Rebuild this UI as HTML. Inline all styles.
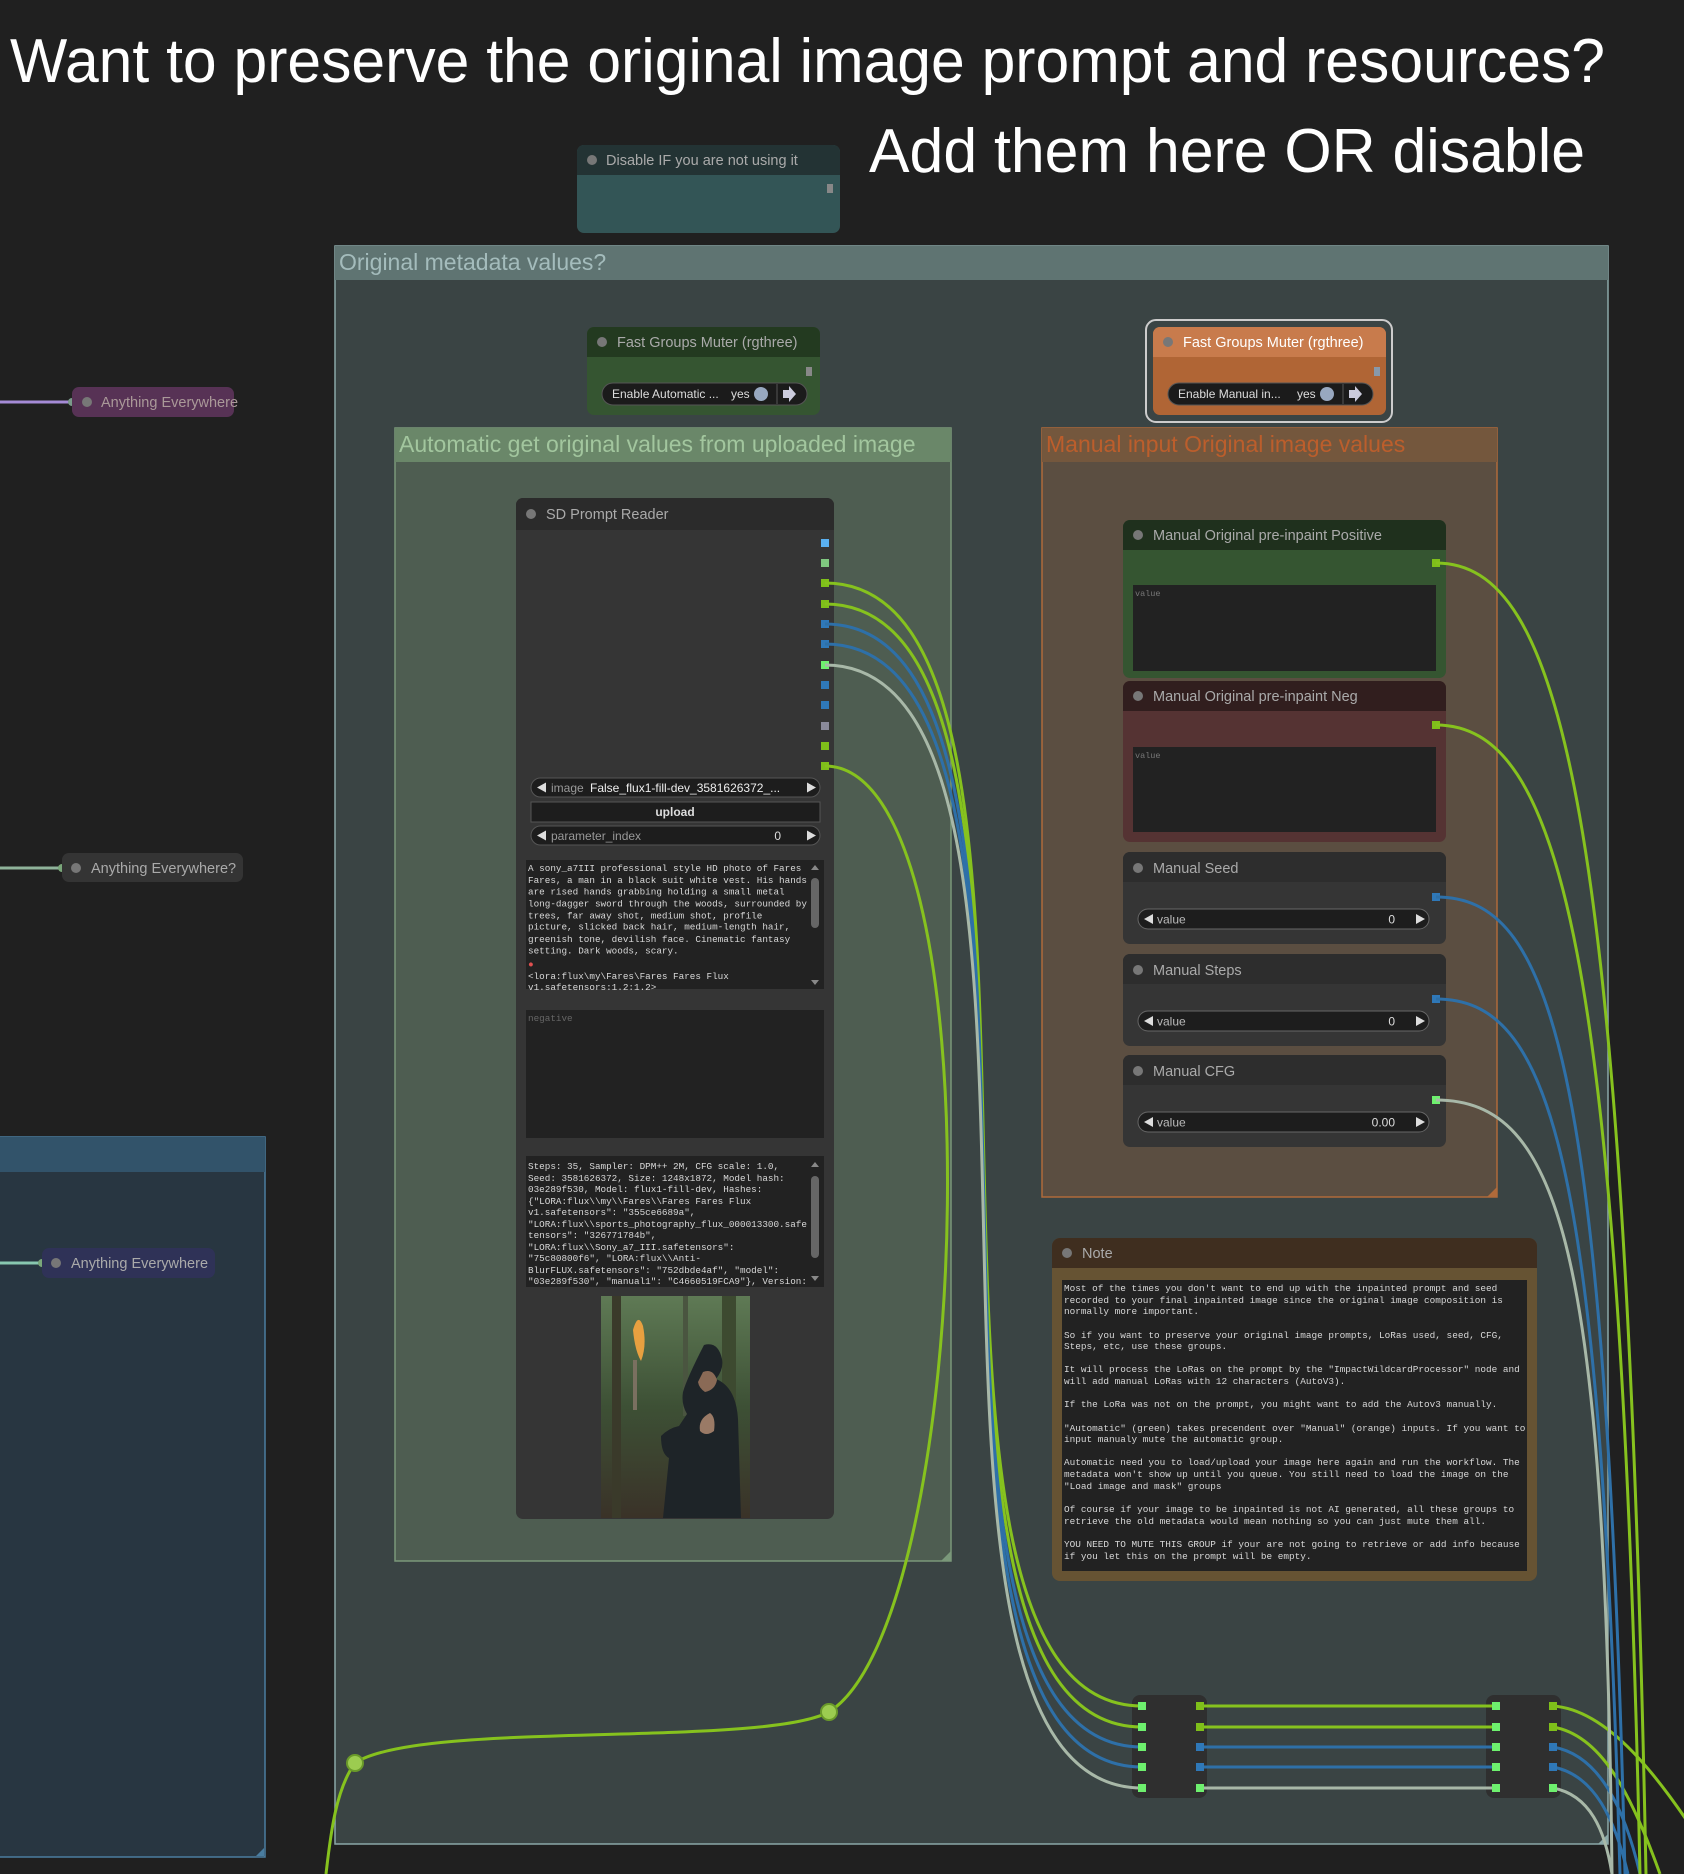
<!DOCTYPE html>
<html><head><meta charset="utf-8"><style>
html,body{margin:0;padding:0;background:#202020;}
svg{display:block;}
.t{font-family:"Liberation Sans",Arial,sans-serif;}
.m{font-family:"Liberation Mono",monospace;font-size:9.3px;fill:#d8d8d8;}
.nt{font-family:"Liberation Sans",Arial,sans-serif;font-size:14.5px;fill:#aaa;}
.w{font-family:"Liberation Sans",Arial,sans-serif;font-size:12px;fill:#ddd;}
</style></head><body>
<svg width="1684" height="1874" viewBox="0 0 1684 1874" xmlns="http://www.w3.org/2000/svg">
<rect width="1684" height="1874" fill="#202020"/>
<text class="t" x="10" y="82" font-size="62" fill="#fff" textLength="1595" lengthAdjust="spacingAndGlyphs">Want to preserve the original image prompt and resources?</text>
<text class="t" x="869" y="172" font-size="62" fill="#fff" textLength="716" lengthAdjust="spacingAndGlyphs">Add them here OR disable</text>

<!-- left blue group -->
<rect x="-2" y="1137" width="267" height="720" fill="#283641" stroke="#4a7da0" stroke-width="1.5"/>
<rect x="-2" y="1137" width="267" height="35" fill="#32536a"/>
<path d="M256,1856 L264,1848 L264,1856Z" fill="#4a7da0"/>

<!-- left AE nodes -->
<line x1="0" y1="402" x2="72" y2="402" stroke="#a58bd6" stroke-width="3"/>
<circle cx="72" cy="402" r="4" fill="#7a9a8a"/>
<rect x="72" y="387" width="162" height="30" rx="7" fill="#573255"/>
<circle cx="87" cy="402" r="5" fill="#777"/>
<text class="nt" x="101" y="407" font-size="14" style="fill:#a99">Anything Everywhere</text>

<line x1="0" y1="868" x2="62" y2="868" stroke="#8fb39a" stroke-width="3"/>
<circle cx="62" cy="868" r="4" fill="#7aa77a"/>
<rect x="62" y="853" width="181" height="29" rx="7" fill="#343434"/>
<circle cx="76" cy="868" r="5" fill="#777"/>
<text class="nt" x="91" y="873" font-size="14">Anything Everywhere?</text>

<line x1="0" y1="1263" x2="42" y2="1263" stroke="#88c8b0" stroke-width="3"/>
<circle cx="42" cy="1263" r="4" fill="#7aa77a"/>
<rect x="42" y="1248" width="173" height="30" rx="7" fill="#2f3257"/>
<circle cx="56" cy="1263" r="5" fill="#777"/>
<text class="nt" x="71" y="1268" font-size="14">Anything Everywhere</text>

<!-- Disable node -->
<rect x="577" y="145" width="263" height="88" rx="7" fill="#335556"/>
<path d="M577,175 V152 a7,7 0 0 1 7,-7 H833 a7,7 0 0 1 7,7 V175Z" fill="#233334"/>
<circle cx="592" cy="160" r="5" fill="#777"/>
<text class="nt" x="606" y="165" font-size="14">Disable IF you are not using it</text>
<rect x="827" y="184" width="6" height="9" fill="#888"/>

<!-- Big group -->
<rect x="335" y="246" width="1273" height="1598" fill="#3a4444" stroke="#8aa8a8" stroke-width="1.5"/>
<rect x="335" y="246" width="1273" height="34" fill="#5f7472"/>
<text class="t" x="339" y="270" font-size="23" fill="#a4bcbc">Original metadata values?</text>
<path d="M1598,1844 L1608,1834 L1608,1844Z" fill="#8aa8a8"/>

<!-- Fast groups muter green -->
<rect x="587" y="327" width="233" height="88" rx="7" fill="#355531"/>
<path d="M587,357 V334 a7,7 0 0 1 7,-7 H813 a7,7 0 0 1 7,7 V357Z" fill="#233a20"/>
<circle cx="602" cy="342" r="5" fill="#777"/>
<text class="nt" x="617" y="347" font-size="14">Fast Groups Muter (rgthree)</text>
<rect x="806" y="367" width="6" height="9" fill="#888"/>
<rect x="602" y="383" width="205" height="22" rx="11" fill="#1b1b1b" stroke="#555"/>
<text class="w" x="612" y="398">Enable Automatic ...</text>
<text class="w" x="731" y="398">yes</text>
<circle cx="761" cy="394" r="7" fill="#98a8c0"/>
<line x1="777" y1="384" x2="777" y2="404" stroke="#555"/>
<path d="M783,390 h6 v-4 l7,8 l-7,8 v-4 h-6z" fill="#ccd"/>

<!-- Fast groups muter orange -->
<rect x="1146" y="320" width="246" height="102" rx="10" fill="none" stroke="#ccc" stroke-width="2"/>
<rect x="1153" y="327" width="233" height="88" rx="7" fill="#b06535"/>
<path d="M1153,357 V334 a7,7 0 0 1 7,-7 H1379 a7,7 0 0 1 7,7 V357Z" fill="#c87b4c"/>
<circle cx="1168" cy="342" r="5" fill="#777"/>
<text class="nt" x="1183" y="347" font-size="14" style="fill:#fff">Fast Groups Muter (rgthree)</text>
<rect x="1374" y="367" width="6" height="9" fill="#8899aa"/>
<rect x="1168" y="383" width="205" height="22" rx="11" fill="#1b1b1b" stroke="#555"/>
<text class="w" x="1178" y="398">Enable Manual in...</text>
<text class="w" x="1297" y="398">yes</text>
<circle cx="1327" cy="394" r="7" fill="#98a8c0"/>
<line x1="1343" y1="384" x2="1343" y2="404" stroke="#555"/>
<path d="M1349,390 h6 v-4 l7,8 l-7,8 v-4 h-6z" fill="#ccd"/>

<!-- Auto group -->
<rect x="395" y="428" width="556" height="1133" fill="#4e5d51" stroke="#7a987a" stroke-width="1.5"/>
<rect x="395" y="428" width="556" height="34" fill="#6a8769"/>
<text class="t" x="399" y="452" font-size="23" fill="#a2c69e">Automatic get original values from uploaded image</text>
<path d="M941,1561 L951,1551 L951,1561Z" fill="#7a987a"/>

<!-- Manual group -->
<rect x="1042" y="428" width="455" height="769" fill="#5b4e41" stroke="#b06a3a" stroke-width="1.5"/>
<rect x="1042" y="428" width="455" height="34" fill="#74573d"/>
<text class="t" x="1046" y="452" font-size="23" fill="#bc5e2c">Manual input Original image values</text>
<path d="M1487,1197 L1497,1187 L1497,1197Z" fill="#b06a3a"/>

<!-- SD Prompt Reader -->
<rect x="516" y="498" width="318" height="1021" rx="7" fill="#353535"/>
<path d="M516,530 V505 a7,7 0 0 1 7,-7 H827 a7,7 0 0 1 7,7 V530Z" fill="#2b2b2b"/>
<circle cx="531" cy="514" r="5" fill="#777"/>
<text class="nt" x="546" y="519" font-size="14.5">SD Prompt Reader</text>
<g>
<rect x="821" y="539" width="8" height="8" fill="#5ab0f0"/>
<rect x="821" y="559" width="8" height="8" fill="#80c880"/>
<rect x="821" y="579" width="8" height="8" fill="#7fbf1a"/>
<rect x="821" y="600" width="8" height="8" fill="#7fbf1a"/>
<rect x="821" y="620" width="8" height="8" fill="#2f78b8"/>
<rect x="821" y="640" width="8" height="8" fill="#2f78b8"/>
<rect x="821" y="661" width="8" height="8" fill="#6ef06e"/>
<rect x="821" y="681" width="8" height="8" fill="#2f78b8"/>
<rect x="821" y="701" width="8" height="8" fill="#2f78b8"/>
<rect x="821" y="722" width="8" height="8" fill="#8a8a9a"/>
<rect x="821" y="742" width="8" height="8" fill="#7fbf1a"/>
<rect x="821" y="762" width="8" height="8" fill="#7fbf1a"/>
</g>
<rect x="531" y="778" width="289" height="19" rx="9.5" fill="#1d1d1d" stroke="#555"/>
<path d="M537,787.5 l9,-5 v10z M816,787.5 l-9,-5 v10z" fill="#ddd"/>
<text class="w" x="551" y="792" style="fill:#999">image</text>
<text class="w" x="590" y="792" style="fill:#eee">False_flux1-fill-dev_3581626372_...</text>
<rect x="531" y="802" width="289" height="20" fill="#1d1d1d" stroke="#555"/>
<text class="w" x="675" y="816" text-anchor="middle" font-weight="bold">upload</text>
<rect x="531" y="826" width="289" height="19" rx="9.5" fill="#1d1d1d" stroke="#555"/>
<path d="M537,835.5 l9,-5 v10z M816,835.5 l-9,-5 v10z" fill="#ddd"/>
<text class="w" x="551" y="840" style="fill:#999">parameter_index</text>
<text class="w" x="781" y="840" text-anchor="end">0</text>

<rect x="526" y="860" width="298" height="129" fill="#222"/>
<rect x="811" y="878" width="8" height="50" rx="4" fill="#666"/>
<path d="M811,870 l4,-5 l4,5z M811,980 l4,5 l4,-5z" fill="#888"/>
<g class="m">
<text x="528" y="871">A sony_a7III professional style HD photo of Fares</text>
<text x="528" y="883">Fares, a man in a black suit white vest. His hands</text>
<text x="528" y="894.5">are rised hands grabbing holding a small metal</text>
<text x="528" y="906.5">long-dagger sword through the woods, surrounded by</text>
<text x="528" y="918.5">trees, far away shot, medium shot, profile</text>
<text x="528" y="929.5">picture, slicked back hair, medium-length hair,</text>
<text x="528" y="942">greenish tone, devilish face. Cinematic fantasy</text>
<text x="528" y="953.5">setting. Dark woods, scary.</text>
<text x="528" y="967" style="fill:#e05050">●</text>
<text x="528" y="979">&lt;lora:flux\my\Fares\Fares Fares Flux</text>
<text x="528" y="990">v1.safetensors:1.2:1.2&gt;</text>
</g>
<rect x="526" y="990" width="298" height="6" fill="#353535"/>

<rect x="526" y="1010" width="298" height="128" fill="#222"/>
<text class="m" x="528" y="1021" style="fill:#666">negative</text>

<rect x="526" y="1156" width="298" height="131" fill="#222"/>
<rect x="811" y="1176" width="8" height="82" rx="4" fill="#666"/>
<path d="M811,1167 l4,-5 l4,5z M811,1276 l4,5 l4,-5z" fill="#888"/>
<g class="m">
<text x="528" y="1169">Steps: 35, Sampler: DPM++ 2M, CFG scale: 1.0,</text>
<text x="528" y="1181">Seed: 3581626372, Size: 1248x1872, Model hash:</text>
<text x="528" y="1192">03e289f530, Model: flux1-fill-dev, Hashes:</text>
<text x="528" y="1204">{"LORA:flux\\my\\Fares\\Fares Fares Flux</text>
<text x="528" y="1215">v1.safetensors": "355ce6689a",</text>
<text x="528" y="1227">"LORA:flux\\sports_photography_flux_000013300.safe</text>
<text x="528" y="1238">tensors": "326771784b",</text>
<text x="528" y="1250">"LORA:flux\\Sony_a7_III.safetensors":</text>
<text x="528" y="1261">"75c80800f6", "LORA:flux\\Anti-</text>
<text x="528" y="1273">BlurFLUX.safetensors": "752dbde4af", "model":</text>
<text x="528" y="1284">"03e289f530", "manual1": "C4660519FCA9"}, Version:</text>
</g>
<rect x="526" y="1287" width="298" height="6" fill="#353535"/>

<!-- photo -->
<defs>
<linearGradient id="fg" x1="0" y1="0" x2="0" y2="1">
<stop offset="0" stop-color="#5f7a55"/><stop offset="0.5" stop-color="#3d5035"/><stop offset="1" stop-color="#3a3228"/>
</linearGradient>
</defs>
<rect x="601" y="1296" width="149" height="222" fill="url(#fg)"/>
<rect x="612" y="1296" width="9" height="222" fill="#3a3a2a"/>
<rect x="722" y="1296" width="14" height="222" fill="#3d4a30"/>
<rect x="683" y="1296" width="5" height="120" fill="#4a5540"/>
<path d="M704,1345 q14,-4 18,14 q2,10 -6,20 q20,8 22,40 l3,99 h-78 l6,-60 q-8,-4 -8,-22 q8,-8 18,-10 l8,-12 q-6,-10 -4,-22 q4,-14 21,-47z" fill="#1e2428"/>
<path d="M703,1372 q10,-4 14,8 q-2,10 -12,12 q-6,-4 -7,-10z" fill="#8a6a56"/>
<path d="M710,1413 q6,4 4,18 q-8,6 -14,0 q-2,-12 10,-18z" fill="#9a7a66"/>
<path d="M633,1330 q5,-18 10,-4 q4,20 -2,35 q-6,-10 -8,-31z" fill="#e8a040"/>
<rect x="633" y="1360" width="4" height="50" fill="#7a7060"/>

<!-- Manual nodes -->
<rect x="1123" y="520" width="323" height="158" rx="7" fill="#355531"/>
<path d="M1123,550 V527 a7,7 0 0 1 7,-7 H1439 a7,7 0 0 1 7,7 V550Z" fill="#1f301d"/>
<circle cx="1138" cy="535" r="5" fill="#777"/>
<text class="nt" x="1153" y="540" font-size="14">Manual Original pre-inpaint Positive</text>
<rect x="1432" y="559" width="8" height="8" fill="#7fbf1a"/>
<rect x="1133" y="585" width="303" height="86" fill="#222"/>
<text class="m" x="1135" y="596" style="fill:#777;font-size:8.5px">value</text>

<rect x="1123" y="681" width="323" height="161" rx="7" fill="#553333"/>
<path d="M1123,711 V688 a7,7 0 0 1 7,-7 H1439 a7,7 0 0 1 7,7 V711Z" fill="#311e1e"/>
<circle cx="1138" cy="696" r="5" fill="#777"/>
<text class="nt" x="1153" y="701" font-size="14">Manual Original pre-inpaint Neg</text>
<rect x="1432" y="721" width="8" height="8" fill="#7fbf1a"/>
<rect x="1133" y="747" width="303" height="85" fill="#222"/>
<text class="m" x="1135" y="758" style="fill:#777;font-size:8.5px">value</text>

<g>
<rect x="1123" y="852" width="323" height="92" rx="7" fill="#353535"/>
<path d="M1123,882 V859 a7,7 0 0 1 7,-7 H1439 a7,7 0 0 1 7,7 V882Z" fill="#2d2d2d"/>
<circle cx="1138" cy="868" r="5" fill="#777"/>
<text class="nt" x="1153" y="873" font-size="14">Manual Seed</text>
<rect x="1432" y="893" width="8" height="8" fill="#2f78b8"/>
<rect x="1138" y="909" width="291" height="20" rx="10" fill="#1d1d1d" stroke="#666"/>
<path d="M1144,919 l9,-5 v10z M1425,919 l-9,-5 v10z" fill="#ddd"/>
<text class="w" x="1157" y="923.5" style="fill:#bbb">value</text>
<text class="w" x="1395" y="923.5" text-anchor="end">0</text>
</g>
<g>
<rect x="1123" y="954" width="323" height="92" rx="7" fill="#353535"/>
<path d="M1123,984 V961 a7,7 0 0 1 7,-7 H1439 a7,7 0 0 1 7,7 V984Z" fill="#2d2d2d"/>
<circle cx="1138" cy="970" r="5" fill="#777"/>
<text class="nt" x="1153" y="975" font-size="14">Manual Steps</text>
<rect x="1432" y="995" width="8" height="8" fill="#2f78b8"/>
<rect x="1138" y="1011" width="291" height="20" rx="10" fill="#1d1d1d" stroke="#666"/>
<path d="M1144,1021 l9,-5 v10z M1425,1021 l-9,-5 v10z" fill="#ddd"/>
<text class="w" x="1157" y="1025.5" style="fill:#bbb">value</text>
<text class="w" x="1395" y="1025.5" text-anchor="end">0</text>
</g>
<g>
<rect x="1123" y="1055" width="323" height="92" rx="7" fill="#353535"/>
<path d="M1123,1085 V1062 a7,7 0 0 1 7,-7 H1439 a7,7 0 0 1 7,7 V1085Z" fill="#2d2d2d"/>
<circle cx="1138" cy="1071" r="5" fill="#777"/>
<text class="nt" x="1153" y="1076" font-size="14">Manual CFG</text>
<rect x="1432" y="1096" width="8" height="8" fill="#6ef06e"/>
<rect x="1138" y="1112" width="291" height="20" rx="10" fill="#1d1d1d" stroke="#666"/>
<path d="M1144,1122 l9,-5 v10z M1425,1122 l-9,-5 v10z" fill="#ddd"/>
<text class="w" x="1157" y="1126.5" style="fill:#bbb">value</text>
<text class="w" x="1395" y="1126.5" text-anchor="end">0.00</text>
</g>

<!-- Note -->
<rect x="1052" y="1238" width="485" height="343" rx="8" fill="#665333"/>
<path d="M1052,1268 V1246 a8,8 0 0 1 8,-8 H1529 a8,8 0 0 1 8,8 V1268Z" fill="#3f2e1f"/>
<circle cx="1067" cy="1253" r="5" fill="#777"/>
<text class="nt" x="1082" y="1258" font-size="14">Note</text>
<rect x="1062" y="1280" width="465" height="291" fill="#222"/>
<g class="m" style="font-size:9.4px">
<text x="1064" y="1291">Most of the times you don't want to end up with the inpainted prompt and seed</text>
<text x="1064" y="1303">recorded to your final inpainted image since the original image composition is</text>
<text x="1064" y="1314">normally more important.</text>
<text x="1064" y="1338">So if you want to preserve your original image prompts, LoRas used, seed, CFG,</text>
<text x="1064" y="1349">Steps, etc, use these groups.</text>
<text x="1064" y="1372">It will process the LoRas on the prompt by the "ImpactWildcardProcessor" node and</text>
<text x="1064" y="1384">will add manual LoRas with 12 characters (AutoV3).</text>
<text x="1064" y="1407">If the LoRa was not on the prompt, you might want to add the Autov3 manually.</text>
<text x="1064" y="1431">"Automatic" (green) takes precendent over "Manual" (orange) inputs. If you want to</text>
<text x="1064" y="1442">input manualy mute the automatic group.</text>
<text x="1064" y="1465">Automatic need you to load/upload your image here again and run the workflow. The</text>
<text x="1064" y="1477">metadata won't show up until you queue. You still need to load the image on the</text>
<text x="1064" y="1489">"Load image and mask" groups</text>
<text x="1064" y="1512">Of course if your image to be inpainted is not AI generated, all these groups to</text>
<text x="1064" y="1524">retrieve the old metadata would mean nothing so you can just mute them all.</text>
<text x="1064" y="1547">YOU NEED TO MUTE THIS GROUP if your are not going to retrieve or add info because</text>
<text x="1064" y="1559">if you let this on the prompt will be empty.</text>
</g>

<!-- reroute nodes -->
<rect x="1132" y="1695" width="75" height="103" rx="8" fill="#2f2f2f"/>
<rect x="1486" y="1695" width="75" height="103" rx="8" fill="#2f2f2f"/>

<!-- wires -->
<g fill="none" stroke-width="3">
<path d="M825,583 C1116,583 851,1706 1142,1706" stroke="#86c21e"/>
<path d="M825,604 C1116,604 851,1727 1142,1727" stroke="#86c21e"/>
<path d="M825,624 C1116,624 851,1747 1142,1747" stroke="#2e70a8"/>
<path d="M825,644 C1116,644 851,1767 1142,1767" stroke="#2e70a8"/>
<path d="M825,665 C1116,665 851,1788 1142,1788" stroke="#a8b8a8"/>
<path d="M825,766 C1000,766 975,1620 829,1712 C760,1748 420,1720 355,1763 C335,1790 330,1840 326,1874" stroke="#86c21e"/>
<line x1="1200" y1="1706" x2="1496" y2="1706" stroke="#86c21e"/>
<line x1="1200" y1="1727" x2="1496" y2="1727" stroke="#86c21e"/>
<line x1="1200" y1="1747" x2="1496" y2="1747" stroke="#2e70a8"/>
<line x1="1200" y1="1767" x2="1496" y2="1767" stroke="#2e70a8"/>
<line x1="1200" y1="1788" x2="1496" y2="1788" stroke="#a8b8a8"/>
<path d="M1553,1706 C1610,1710 1660,1780 1700,1840" stroke="#86c21e"/>
<path d="M1553,1727 C1600,1735 1630,1790 1660,1874" stroke="#86c21e"/>
<path d="M1553,1747 C1600,1755 1625,1810 1640,1874" stroke="#2e70a8"/>
<path d="M1553,1767 C1595,1775 1615,1820 1628,1874" stroke="#2e70a8"/>
<path d="M1553,1788 C1590,1795 1605,1830 1612,1874" stroke="#a8b8a8"/>
<path d="M1436,563 C1560,563 1625,800 1646,1874" stroke="#86c21e"/>
<path d="M1436,725 C1560,725 1620,950 1640,1874" stroke="#86c21e"/>
<path d="M1436,897 C1550,897 1605,1050 1625,1874" stroke="#2e70a8"/>
<path d="M1436,999 C1550,999 1600,1150 1620,1874" stroke="#2e70a8"/>
<path d="M1436,1100 C1560,1100 1605,1250 1612,1874" stroke="#a8b8a8"/>
</g>
<circle cx="829" cy="1712" r="8" fill="#9ccc50" stroke="#6a9a2a" stroke-width="2"/>
<circle cx="355" cy="1763" r="8" fill="#9ccc50" stroke="#6a9a2a" stroke-width="2"/>
<g fill="#6ef06e">
<rect x="1138" y="1702" width="8" height="8"/><rect x="1138" y="1723" width="8" height="8"/><rect x="1138" y="1743" width="8" height="8"/><rect x="1138" y="1763" width="8" height="8"/><rect x="1138" y="1784" width="8" height="8"/>
<rect x="1492" y="1702" width="8" height="8"/><rect x="1492" y="1723" width="8" height="8"/><rect x="1492" y="1743" width="8" height="8"/><rect x="1492" y="1763" width="8" height="8"/><rect x="1492" y="1784" width="8" height="8"/>
<rect x="1196" y="1784" width="8" height="8"/><rect x="1549" y="1784" width="8" height="8"/>
</g>
<g>
<rect x="1196" y="1702" width="8" height="8" fill="#7fbf1a"/><rect x="1196" y="1723" width="8" height="8" fill="#7fbf1a"/><rect x="1196" y="1743" width="8" height="8" fill="#2f78b8"/><rect x="1196" y="1763" width="8" height="8" fill="#2f78b8"/>
<rect x="1549" y="1702" width="8" height="8" fill="#7fbf1a"/><rect x="1549" y="1723" width="8" height="8" fill="#7fbf1a"/><rect x="1549" y="1743" width="8" height="8" fill="#2f78b8"/><rect x="1549" y="1763" width="8" height="8" fill="#2f78b8"/>
</g>
</svg>
</body></html>
